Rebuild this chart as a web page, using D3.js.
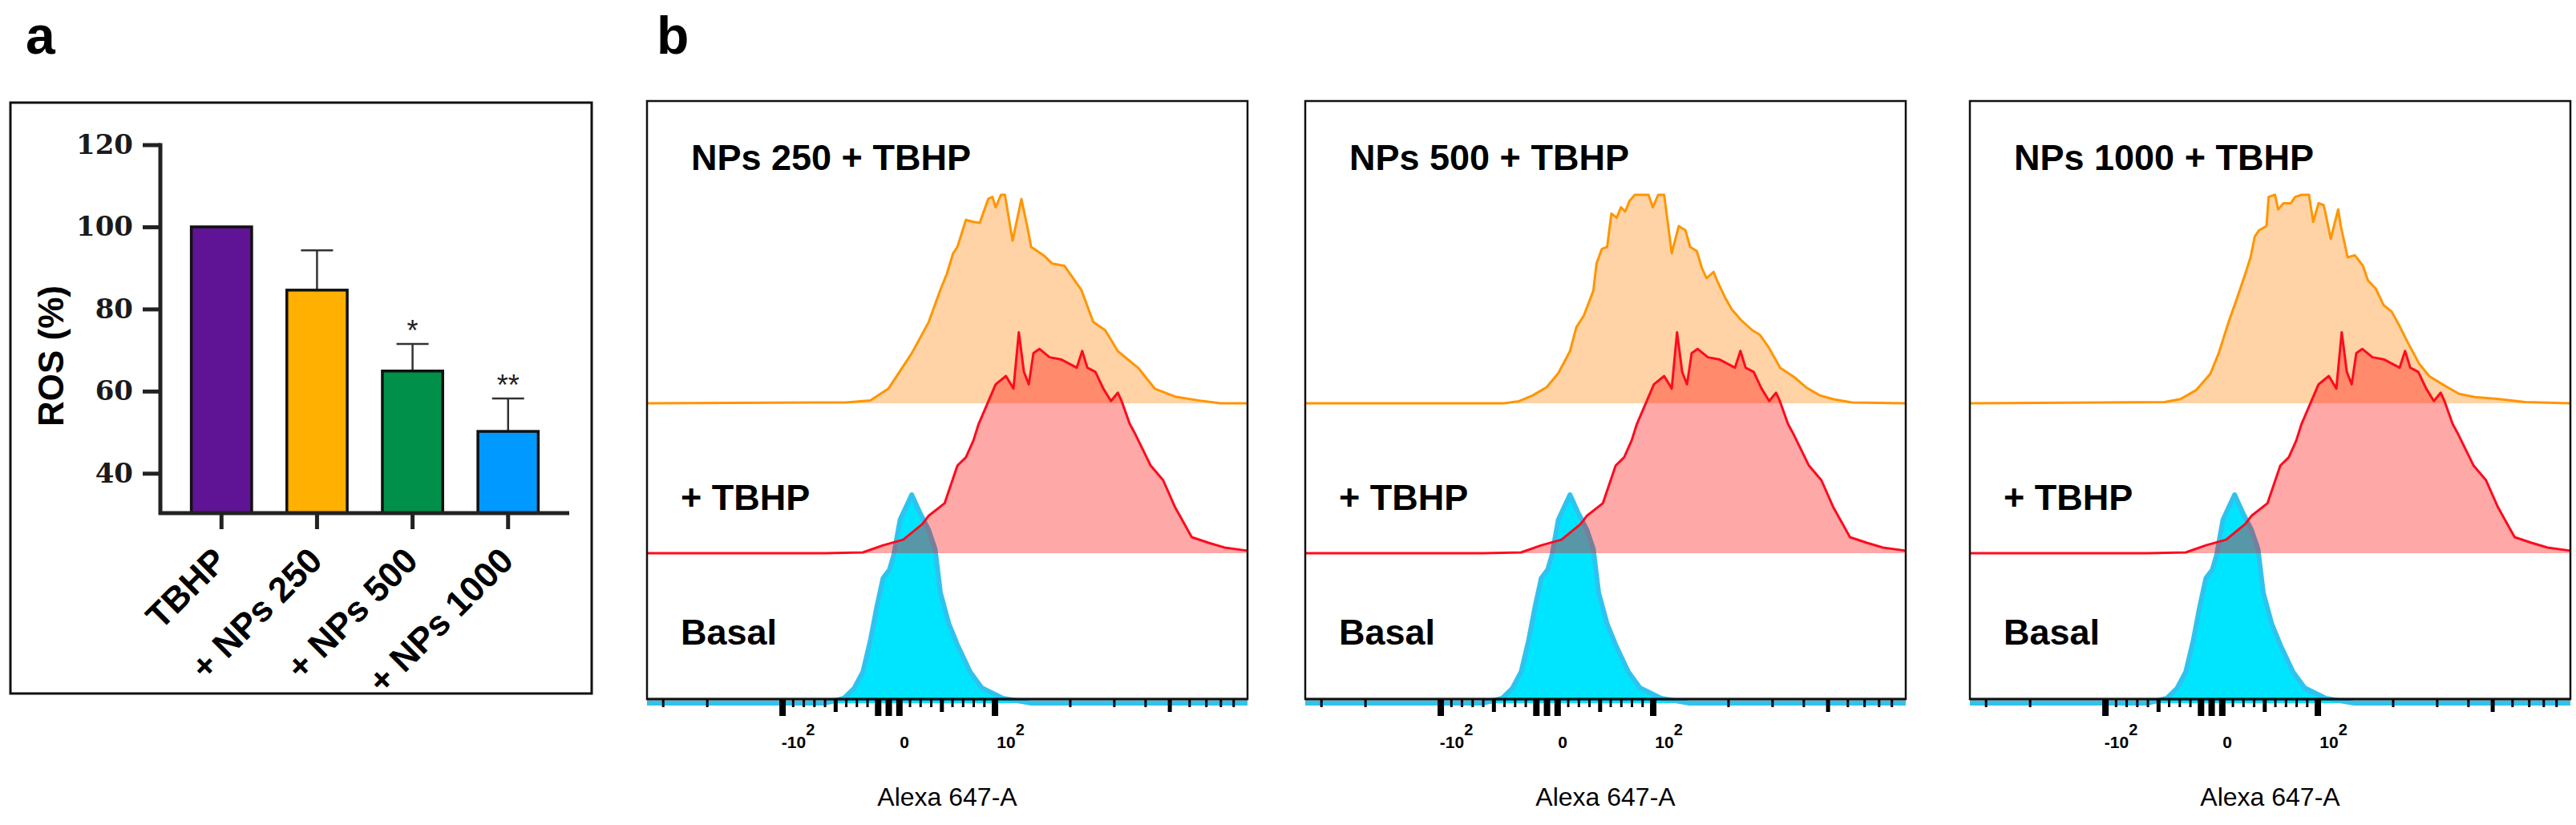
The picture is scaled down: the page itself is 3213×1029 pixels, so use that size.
<!DOCTYPE html>
<html lang="en">

<head>
	<meta charset="UTF-8">
	<title>ROS and flow histograms</title>
	<script src="https://cdn.jsdelivr.net/npm/d3@7/dist/d3.min.js" charset="UTF-8"></script>
	<style>
		body { margin: 0; background: #fff; }
		svg { display: block; }
	</style>
</head>

<body>
	<div id="chart"></div>

	<script type="text/javascript">
	// ---- panel a : ROS bars ----
	let groups = ['TBHP', '+ NPs 250', '+ NPs 500', '+ NPs 1000'];
	let ros = [100, 84.6, 64.9, 50.2];
	let rosErr = [0, 9.7, 6.6, 8.0];
	let stars = ['', '', '*', '**'];
	let barColors = ['#5e1494', '#ffb000', '#00904a', '#0099ff'];
	let rosTicks = [40, 60, 80, 100, 120];

	// ---- panel b : histograms (fluorescence, % of mode) ----
	let panelTitles = ['NPs 250 + TBHP', 'NPs 500 + TBHP', 'NPs 1000 + TBHP'];

	let basalX = [-347, -60, -42, -32, -24, -17, -11, -5, 1, 5, 11, 22, 30, 38, 44, 49, 57, 65, 77, 88, 108, 140, 1026];
	let basalY = [0, 0, 2.3, 7.3, 15, 30, 46, 60, 64, 71, 88, 100, 91, 83, 74, 53, 38, 28, 15, 7.3, 2.3, 0, 0];

	let tbhpX = [-347, -60, -24, -5, 14, 32, 38, 53, 65, 73, 80, 85, 101, 111, 119, 125, 131, 137, 143, 151, 166, 184, 198, 213, 224, 235, 253, 272, 292, 311, 322, 347, 362, 421, 472, 527, 614, 717, 832, 1026];
	let tbhpY = [0, 0, 0.4, 3.8, 6.5, 14, 18, 24, 42, 46, 54, 62, 81, 85, 79, 106, 87, 81, 96, 98, 94, 93, 91, 89, 97, 89, 87, 79, 73, 77, 73, 62, 58, 42, 35, 22, 7.7, 5, 2.7, 1.2];

	let np250X = [-347, -40, -17, 0, 22, 38, 49, 55, 61, 65, 73, 80, 86, 94, 98, 101, 106, 110, 118, 128, 135, 140, 157, 170, 190, 222, 248, 277, 311, 375, 437, 527, 660, 800, 1026];
	let np250Y = [0, 0.4, 1.3, 7, 24, 39, 54.5, 62, 72, 75, 88, 87, 86.5, 98, 99, 94, 100, 100, 78, 98, 85, 75, 71, 67, 66, 54.5, 39, 35, 25, 17, 7, 3.2, 1.3, 0, 0];

	let np500X = [-347, -40, -26, -13, 0, 11, 22, 28, 35, 44, 47, 52, 57, 61, 66, 70, 74, 78, 83, 87, 96, 100, 105, 111, 119, 127, 135, 141, 150, 157, 164, 175, 182, 194, 207, 225, 250, 267, 290, 323, 368, 409, 465, 528, 625, 1026];
	let np500Y = [0, 0, 1, 3.8, 7.7, 14.4, 25, 36.5, 42, 54, 67, 74, 75, 91, 89, 94, 92, 97, 100, 100, 100, 94, 100, 100, 72, 85, 83, 75, 73, 65, 60, 63, 58, 51, 45, 40, 35, 33, 27, 17, 12.5, 7.7, 3.8, 1.9, 0.4, 0];

	let np1000X = [-347, -44, -29, -14, -1, 7, 17, 24, 32, 37, 41, 45, 52, 54, 60, 63, 68, 75, 79, 85, 92, 96, 101, 106, 113, 121, 124, 132, 141, 152, 159, 171, 184, 198, 213, 230, 255, 280, 317, 368, 426, 532, 677, 1026];
	let np1000Y = [0, 0.6, 2, 6.4, 14, 24, 40, 50, 62, 70, 80, 83, 85, 99, 100, 93, 96, 96, 99, 100, 100, 87, 96, 95, 79, 93, 85, 70, 71, 66, 59, 55, 47, 44, 37, 29, 19, 13, 9, 4.5, 3, 2, 0.6, 0];

	let treatX = [np250X, np500X, np1000X];
	let treatY = [np250Y, np500Y, np1000Y];

	let xExtent = [-347, 1026];
	let majorTicks = [-100, -10, 0, 10, 100];
	let midTicks = [-50, 50, 500];
	let minorTicks = [-300, -200, -90, -80, -70, -60, -40, -30, -20, 20, 30, 40, 60, 70, 80, 90, 200, 300, 400, 600, 700, 800, 900];
	let labelValues = [-100, 0, 100];
	let labelBase = ['-10', '0', '10'];
	let labelExp = ['2', '', '2'];

	let width = 3213,
		height = 1029;

	let svg = d3.select('#chart')
		.append('svg')
		.attr('width', width)
		.attr('height', height)
		.style('font-family', '"Liberation Sans", Arial, sans-serif');

	// panel letters
	svg.append('text').attr('x', 32).attr('y', 67)
		.attr('font-size', 66).attr('font-weight', 'bold').text('a');
	svg.append('text').attr('x', 819).attr('y', 67)
		.attr('font-size', 66).attr('font-weight', 'bold').text('b');

	// ================= panel a =================
	let boxA = { x: 13, y: 128, w: 725, h: 737 };
	svg.append('rect')
		.attr('x', boxA.x).attr('y', boxA.y)
		.attr('width', boxA.w).attr('height', boxA.h)
		.attr('fill', 'none').attr('stroke', '#111').attr('stroke-width', 3);

	let ga = svg.append('g');

	let bars = groups.map((g, i) => ({ g: g, v: ros[i], e: rosErr[i], s: stars[i], c: barColors[i] }));

	let y = d3.scaleLinear().domain([30.3, 120]).range([640, 180.5]);
	let x = d3.scaleBand().domain(groups).range([200, 710])
		.paddingInner(0.368).paddingOuter(0.324);
	let cx = d => x(d.g) + x.bandwidth() / 2;

	// error bars (drawn first, bar outline sits on top)
	let errG = ga.selectAll('g.err').data(bars.filter(d => d.e > 0)).enter().append('g')
		.attr('class', 'err');
	errG.append('line')
		.attr('x1', cx).attr('x2', cx)
		.attr('y1', d => y(d.v))
		.attr('y2', d => y(d.v + d.e))
		.attr('stroke', '#333').attr('stroke-width', 2.5);
	errG.append('line')
		.attr('x1', d => cx(d) - 20)
		.attr('x2', d => cx(d) + 20)
		.attr('y1', d => y(d.v + d.e))
		.attr('y2', d => y(d.v + d.e))
		.attr('stroke', '#333').attr('stroke-width', 2.5);

	// bars
	ga.selectAll('rect.bar').data(bars).enter().append('rect')
		.attr('class', 'bar')
		.attr('x', d => x(d.g))
		.attr('y', d => y(d.v))
		.attr('width', x.bandwidth())
		.attr('height', d => y.range()[0] - y(d.v))
		.attr('fill', d => d.c)
		.attr('stroke', '#111')
		.attr('stroke-width', 3.5);

	// significance stars
	ga.selectAll('text.star').data(bars).enter().append('text')
		.attr('class', 'star')
		.attr('x', cx)
		.attr('y', d => y(d.v + d.e) - 4)
		.attr('text-anchor', 'middle')
		.attr('font-size', 36)
		.attr('fill', '#222')
		.text(d => d.s);

	// y axis
	let yAxis = d3.axisLeft(y).tickValues(rosTicks).tickSize(22).tickPadding(12).tickSizeOuter(0);
	let gy = ga.append('g').attr('transform', 'translate(200,0)').call(yAxis);
	gy.select('.domain').remove();
	gy.append('line').attr('x1', 0).attr('x2', 0)
		.attr('y1', y(120) - 2).attr('y2', 642)
		.attr('stroke', '#222').attr('stroke-width', 5);
	gy.selectAll('.tick line').attr('stroke', '#222').attr('stroke-width', 5);
	gy.selectAll('.tick text')
		.attr('font-family', '"DejaVu Serif", "Liberation Serif", serif')
		.attr('font-weight', 'bold')
		.attr('font-size', 34)
		.attr('fill', '#1a1a1a');

	// x axis
	let xAxis = d3.axisBottom(x).tickSize(20).tickSizeOuter(0).tickFormat('');
	let gx = ga.append('g').attr('transform', 'translate(0,640)').call(xAxis);
	gx.select('.domain').remove();
	gx.append('line').attr('x1', 198).attr('x2', 710).attr('y1', 0).attr('y2', 0)
		.attr('stroke', '#222').attr('stroke-width', 5);
	gx.selectAll('.tick line').attr('stroke', '#222').attr('stroke-width', 5);

	ga.selectAll('text.xlab').data(groups).enter().append('text')
		.attr('class', 'xlab')
		.attr('transform', d => 'translate(' + (x(d) + x.bandwidth() / 2 + 9) + ',702) rotate(-45)')
		.attr('text-anchor', 'end')
		.attr('font-size', 44)
		.attr('font-weight', 'bold')
		.text(d => d);

	ga.append('text')
		.attr('transform', 'translate(79,444) rotate(-90)')
		.attr('text-anchor', 'middle')
		.attr('font-size', 44)
		.attr('font-weight', 'bold')
		.text('ROS (%)');

	// ================= panel b =================
	let boxLefts = [807, 1628, 2457];
	let boxW = 749,
		boxTop = 126,
		boxBottom = 872;
	let baseTreat = 503,
		baseTbhp = 690,
		baseBasal = 877;

	// biexponential-like display transform
	function biex(v) {
		let a = Math.abs(v);
		return a <= 100 ? v / 100 : Math.sign(v) * (1 + Math.log10(a / 100) * 2.355);
	}

	let h = d3.scaleLinear().domain([0, 100]).range([0, 260]);

	function drawHist(g, xs, xv, yv, base, fill, stroke, sw) {
		let pts = xv.map((v, i) => [v, yv[i]]);
		let area = d3.area()
			.x(d => xs(biex(d[0])))
			.y0(base)
			.y1(d => base - h(d[1]));
		let line = d3.line()
			.x(d => xs(biex(d[0])))
			.y(d => base - h(d[1]));
		g.append('path').attr('d', area(pts)).attr('fill', fill).attr('stroke', 'none');
		g.append('path').attr('d', line(pts)).attr('fill', 'none')
			.attr('stroke', stroke).attr('stroke-width', sw).attr('stroke-linejoin', 'round');
	}

	boxLefts.forEach((bx, p) => {
		let g = svg.append('g');
		let xs = d3.scaleLinear().domain(xExtent.map(biex)).range([bx, bx + boxW]);

		drawHist(g, xs, basalX, basalY, baseBasal, '#00e5ff', '#2ec3ef', 6);
		drawHist(g, xs, treatX[p], treatY[p], baseTreat, 'rgba(255,145,30,0.4)', '#ff9500', 3);
		drawHist(g, xs, tbhpX, tbhpY, baseTbhp, 'rgba(255,0,0,0.34)', '#ff0a1e', 3);

		g.append('rect')
			.attr('x', bx).attr('y', boxTop)
			.attr('width', boxW).attr('height', boxBottom - boxTop)
			.attr('fill', 'none').attr('stroke', '#111').attr('stroke-width', 2.5);
		g.append('line').attr('x1', bx).attr('x2', bx + boxW)
			.attr('y1', boxBottom).attr('y2', boxBottom)
			.attr('stroke', '#111').attr('stroke-width', 3);

		// ticks
		let tickSets = [[minorTicks, 10, 3], [midTicks, 16, 5], [majorTicks, 21, 8]];
		tickSets.forEach(ts => {
			let ax = d3.axisBottom(xs).tickValues(ts[0].map(biex)).tickSize(ts[1]).tickSizeOuter(0).tickFormat('');
			let gt = g.append('g').attr('transform', 'translate(0,' + boxBottom + ')').call(ax);
			gt.select('.domain').remove();
			gt.selectAll('.tick line').attr('stroke', '#000').attr('stroke-width', ts[2]);
		});

		// tick labels
		labelValues.forEach((v, i) => {
			let t = g.append('text')
				.attr('x', xs(biex(v)) + 20)
				.attr('y', 933)
				.attr('text-anchor', 'middle')
				.attr('font-size', 21)
				.attr('font-weight', 'bold');
			t.append('tspan').text(labelBase[i]);
			if (labelExp[i]) {
				t.append('tspan').attr('dy', -16).attr('font-size', 20).text(labelExp[i]);
			}
		});

		g.append('text')
			.attr('x', bx + boxW / 2)
			.attr('y', 1005)
			.attr('text-anchor', 'middle')
			.attr('font-size', 32)
			.text('Alexa 647-A');

		g.append('text').attr('x', bx + 55).attr('y', 212)
			.attr('font-size', 45).attr('font-weight', 'bold').text(panelTitles[p]);
		g.append('text').attr('x', bx + 42).attr('y', 636)
			.attr('font-size', 45).attr('font-weight', 'bold').text('+ TBHP');
		g.append('text').attr('x', bx + 42).attr('y', 804)
			.attr('font-size', 45).attr('font-weight', 'bold').text('Basal');
	});
	</script>
</body>

</html>
